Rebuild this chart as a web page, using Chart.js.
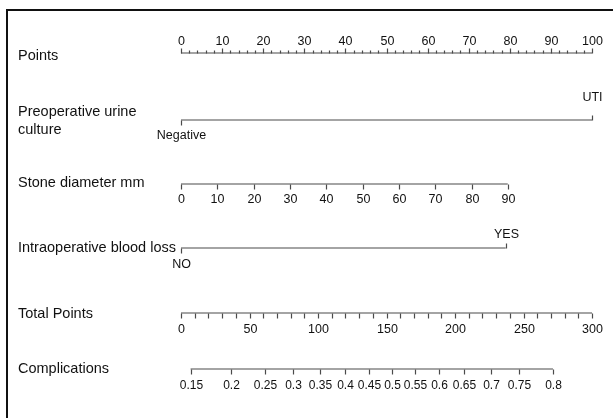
<!DOCTYPE html>
<html>
<head>
<meta charset="utf-8">
<script src="https://cdn.jsdelivr.net/npm/chart.js@4/dist/chart.umd.min.js"></script>
<style>
    html, body { margin: 0; padding: 0; background: #fff; }
    #wrap { width: 613px; height: 418px; position: relative; }
</style>
</head>
<body>
<div id="wrap"><canvas id="nomoChart" width="613" height="418"></canvas></div>
<script>

// POINTS SCALE
const pointsTicks = [0, 10, 20, 30, 40, 50, 60, 70, 80, 90, 100];

// PREOPERATIVE URINE CULTURE
const urineLevels = ["Negative", "UTI"];
const urinePoints = [0, 100];

// STONE DIAMETER (mm -> points)
const stoneTicks = [0, 10, 20, 30, 40, 50, 60, 70, 80, 90];
const stonePoints = [0, 8.8, 17.7, 26.5, 35.3, 44.2, 53, 61.8, 70.7, 79.5];

// INTRAOPERATIVE BLOOD LOSS
const bloodLevels = ["NO", "YES"];
const bloodPoints = [0, 79];

// TOTAL POINTS
const totalTicks = [0, 50, 100, 150, 200, 250, 300];
const totalMax = 300;

// COMPLICATIONS (probability -> total points)
const complicationTicks = [0.15, 0.2, 0.25, 0.3, 0.35, 0.4, 0.45, 0.5, 0.55, 0.6, 0.65, 0.7, 0.75, 0.8];
const complicationTotals = [7, 36.5, 61, 82, 101.5, 119.5, 137, 154, 171, 188.5, 206.5, 226, 247, 271.5];

// row layout (canvas y of each axis line)
const rowY = { points: 53, urine: 120, stone: 184, blood: 248, total: 313, comp: 369 };

const lineColor = "#4a4a4a";
const textColor = "#111";
const fontFamily = "'Liberation Sans', Arial, sans-serif";

function segment(fromX, toX, y) {
    return {
        data: [{ x: fromX, y: y }, { x: toX, y: y }],
        borderColor: lineColor,
        borderWidth: 1.2,
        pointRadius: 0,
        showLine: true
    };
}

const toPts = t => t * 100 / totalMax;

const datasets = [
    segment(pointsTicks[0], pointsTicks[pointsTicks.length - 1], rowY.points),
    segment(urinePoints[0], urinePoints[1], rowY.urine),
    segment(stonePoints[0], stonePoints[stonePoints.length - 1], rowY.stone),
    segment(bloodPoints[0], bloodPoints[1], rowY.blood),
    segment(toPts(totalTicks[0]), toPts(totalMax), rowY.total),
    segment(toPts(complicationTotals[0]), toPts(complicationTotals[complicationTotals.length - 1]), rowY.comp)
];

const nomogramPlugin = {
    id: "nomogram",
    afterDatasetsDraw(chart) {
        const ctx = chart.ctx;
        const xs = chart.scales.x;
        const px = v => Math.round(xs.getPixelForValue(v)) + 0.5;

        ctx.save();

        // frame
        ctx.strokeStyle = "#111";
        ctx.lineWidth = 2;
        ctx.beginPath();
        ctx.moveTo(613, 10);
        ctx.lineTo(7, 10);
        ctx.lineTo(7, 418);
        ctx.stroke();

        ctx.strokeStyle = lineColor;
        ctx.lineWidth = 1.2;

        function tick(x, y, len) {
            ctx.beginPath();
            ctx.moveTo(x, y + 0.5);
            ctx.lineTo(x, y + 0.5 + len);
            ctx.stroke();
        }

        // Points: ticks upward, minor every 2
        for (let v = 0; v <= 100; v += 2) {
            tick(px(v), rowY.points, v % 10 === 0 ? -5 : -3);
        }

        // categorical rows
        tick(px(urinePoints[0]), rowY.urine, 5);
        tick(px(urinePoints[1]), rowY.urine, -5);
        tick(px(bloodPoints[0]), rowY.blood, 5);
        tick(px(bloodPoints[1]), rowY.blood, -5);

        // stone
        stonePoints.forEach(p => tick(px(p), rowY.stone, 5));

        // total points, minor every 10
        for (let t = 0; t <= totalMax; t += 10) {
            tick(px(toPts(t)), rowY.total, 5);
        }

        // complications
        complicationTotals.forEach(t => tick(px(toPts(t)), rowY.comp, 5));

        // texts
        ctx.fillStyle = textColor;
        ctx.textBaseline = "middle";

        ctx.font = "14.5px " + fontFamily;
        ctx.textAlign = "left";
        ctx.fillText("Points", 18, 56);
        ctx.fillText("Preoperative urine", 18, 112);
        ctx.fillText("culture", 18, 130);
        ctx.fillText("Stone diameter mm", 18, 183);
        ctx.fillText("Intraoperative blood loss", 18, 248);
        ctx.fillText("Total Points", 18, 314);
        ctx.fillText("Complications", 18, 369);

        ctx.font = "12.5px " + fontFamily;
        ctx.textAlign = "center";

        pointsTicks.forEach(v => ctx.fillText(String(v), px(v), 42));

        ctx.fillText(urineLevels[0], px(urinePoints[0]), 136);
        ctx.fillText(urineLevels[1], px(urinePoints[1]), 98);

        stoneTicks.forEach((v, i) => ctx.fillText(String(v), px(stonePoints[i]), 200));

        ctx.fillText(bloodLevels[0], px(bloodPoints[0]), 265);
        ctx.fillText(bloodLevels[1], px(bloodPoints[1]), 235);

        totalTicks.forEach(t => ctx.fillText(String(t), px(toPts(t)), 330));

        ctx.font = "12px " + fontFamily;
        complicationTicks.forEach((p, i) => ctx.fillText(String(p), px(toPts(complicationTotals[i])), 386));

        ctx.restore();
    }
};

new Chart(document.getElementById("nomoChart"), {
    type: "line",
    data: { datasets: datasets },
    options: {
        responsive: false,
        animation: false,
        layout: { padding: { left: 181, right: 21, top: 0, bottom: 0 } },
        plugins: { legend: { display: false }, tooltip: { enabled: false } },
        scales: {
            x: { type: "linear", min: 0, max: 100, display: false },
            y: { type: "linear", min: 0, max: 418, reverse: true, display: false }
        }
    },
    plugins: [nomogramPlugin]
});
</script>
</body>
</html>
